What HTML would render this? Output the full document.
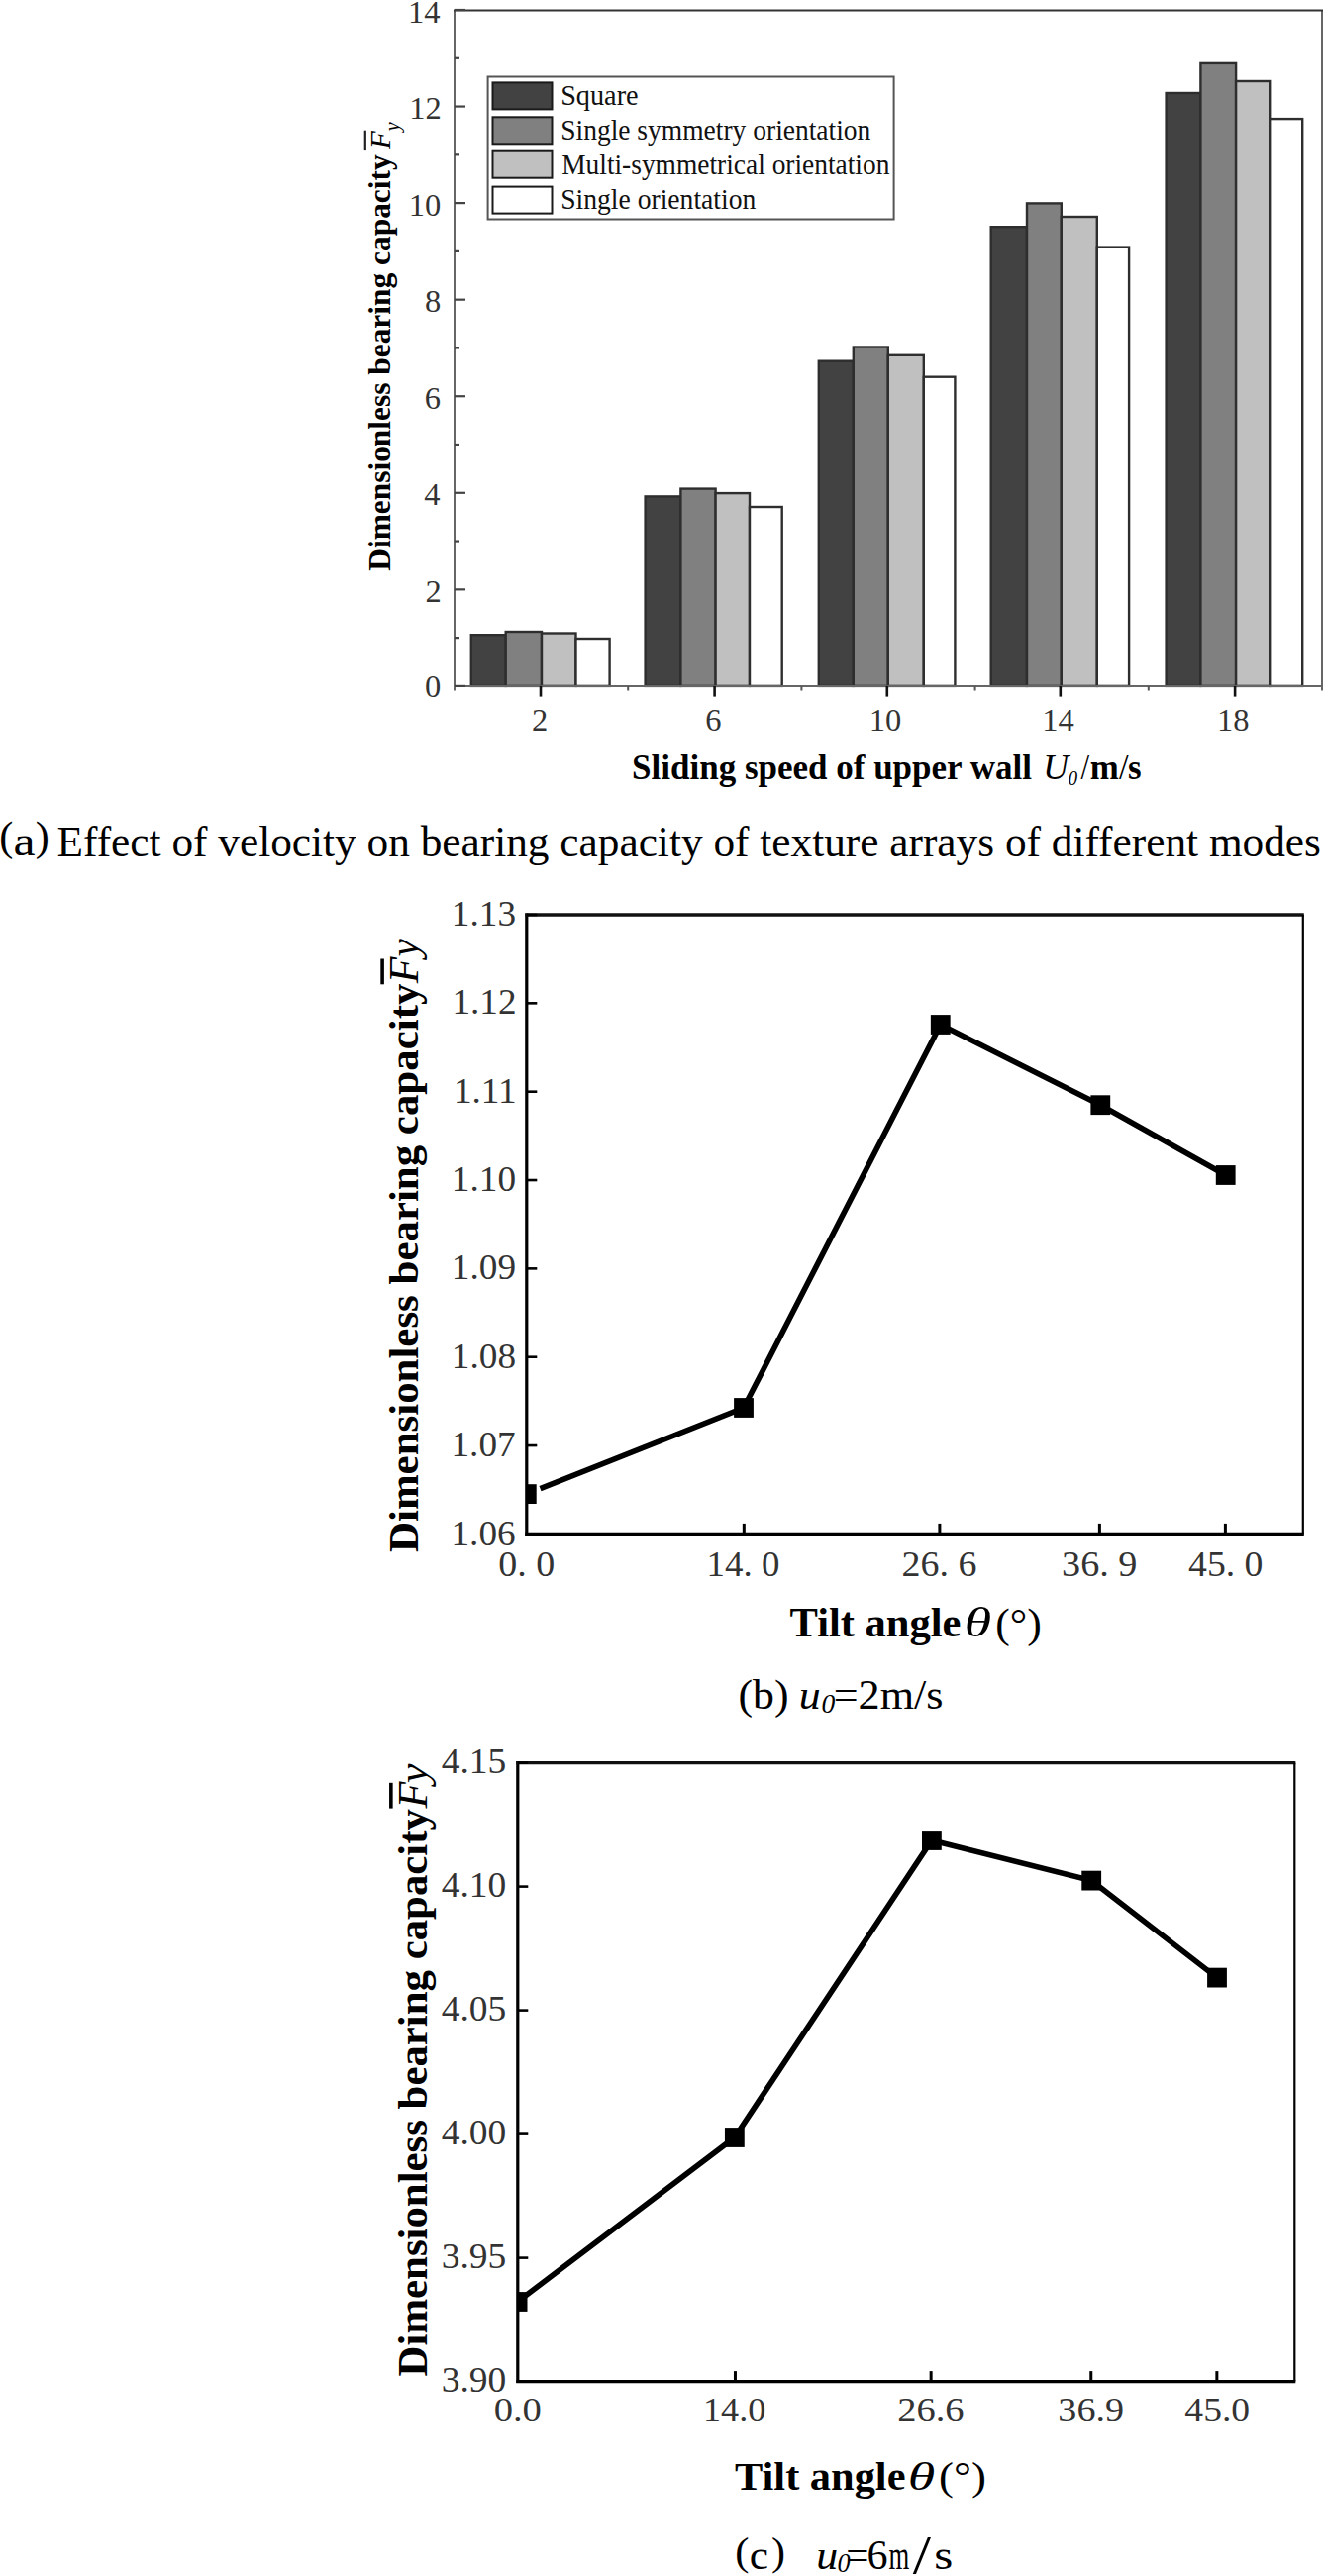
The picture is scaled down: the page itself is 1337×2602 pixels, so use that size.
<!DOCTYPE html><html><head><meta charset="utf-8"><style>html,body{margin:0;padding:0;background:#fff}svg{display:block}</style></head><body>
<svg width="1337" height="2602" viewBox="0 0 1337 2602">
<rect width="1337" height="2602" fill="#fff"/>
<rect x="475.80" y="641.20" width="34.90" height="51.70" fill="#424242" stroke="#2e2e2e" stroke-width="2.40"/>
<rect x="510.70" y="638.00" width="36.30" height="54.90" fill="#808080" stroke="#2e2e2e" stroke-width="2.40"/>
<rect x="547.00" y="639.50" width="34.50" height="53.40" fill="#c0c0c0" stroke="#2e2e2e" stroke-width="2.40"/>
<rect x="581.50" y="645.00" width="34.10" height="47.90" fill="#ffffff" stroke="#2e2e2e" stroke-width="2.40"/>
<rect x="651.60" y="501.40" width="35.80" height="191.50" fill="#424242" stroke="#2e2e2e" stroke-width="2.40"/>
<rect x="687.40" y="493.60" width="35.20" height="199.30" fill="#808080" stroke="#2e2e2e" stroke-width="2.40"/>
<rect x="722.60" y="498.10" width="34.40" height="194.80" fill="#c0c0c0" stroke="#2e2e2e" stroke-width="2.40"/>
<rect x="757.00" y="512.00" width="32.70" height="180.90" fill="#ffffff" stroke="#2e2e2e" stroke-width="2.40"/>
<rect x="826.80" y="364.70" width="35.00" height="328.20" fill="#424242" stroke="#2e2e2e" stroke-width="2.40"/>
<rect x="861.80" y="350.50" width="35.00" height="342.40" fill="#808080" stroke="#2e2e2e" stroke-width="2.40"/>
<rect x="896.80" y="358.80" width="36.00" height="334.10" fill="#c0c0c0" stroke="#2e2e2e" stroke-width="2.40"/>
<rect x="932.80" y="380.70" width="31.60" height="312.20" fill="#ffffff" stroke="#2e2e2e" stroke-width="2.40"/>
<rect x="1000.70" y="229.20" width="36.30" height="463.70" fill="#424242" stroke="#2e2e2e" stroke-width="2.40"/>
<rect x="1037.00" y="205.40" width="34.80" height="487.50" fill="#808080" stroke="#2e2e2e" stroke-width="2.40"/>
<rect x="1071.80" y="219.00" width="36.00" height="473.90" fill="#c0c0c0" stroke="#2e2e2e" stroke-width="2.40"/>
<rect x="1107.80" y="249.60" width="32.30" height="443.30" fill="#ffffff" stroke="#2e2e2e" stroke-width="2.40"/>
<rect x="1177.60" y="94.00" width="34.80" height="598.90" fill="#424242" stroke="#2e2e2e" stroke-width="2.40"/>
<rect x="1212.40" y="63.90" width="35.70" height="629.00" fill="#808080" stroke="#2e2e2e" stroke-width="2.40"/>
<rect x="1248.10" y="82.00" width="34.10" height="610.90" fill="#c0c0c0" stroke="#2e2e2e" stroke-width="2.40"/>
<rect x="1282.20" y="120.10" width="33.00" height="572.80" fill="#ffffff" stroke="#2e2e2e" stroke-width="2.40"/>
<line x1="459.00" y1="10.00" x2="459.00" y2="697.50" stroke="#666" stroke-width="2.00"/>
<line x1="1335.00" y1="10.00" x2="1335.00" y2="697.50" stroke="#666" stroke-width="2.00"/>
<line x1="458.00" y1="10.40" x2="1336.00" y2="10.40" stroke="#333" stroke-width="2.00"/>
<line x1="458.00" y1="692.90" x2="1336.00" y2="692.90" stroke="#666" stroke-width="2.00"/>
<line x1="459.00" y1="692.90" x2="470.00" y2="692.90" stroke="#444" stroke-width="2.20"/>
<line x1="459.00" y1="644.12" x2="464.00" y2="644.12" stroke="#444" stroke-width="2.20"/>
<line x1="459.00" y1="595.34" x2="470.00" y2="595.34" stroke="#444" stroke-width="2.20"/>
<line x1="459.00" y1="546.56" x2="464.00" y2="546.56" stroke="#444" stroke-width="2.20"/>
<line x1="459.00" y1="497.79" x2="470.00" y2="497.79" stroke="#444" stroke-width="2.20"/>
<line x1="459.00" y1="449.01" x2="464.00" y2="449.01" stroke="#444" stroke-width="2.20"/>
<line x1="459.00" y1="400.23" x2="470.00" y2="400.23" stroke="#444" stroke-width="2.20"/>
<line x1="459.00" y1="351.45" x2="464.00" y2="351.45" stroke="#444" stroke-width="2.20"/>
<line x1="459.00" y1="302.67" x2="470.00" y2="302.67" stroke="#444" stroke-width="2.20"/>
<line x1="459.00" y1="253.89" x2="464.00" y2="253.89" stroke="#444" stroke-width="2.20"/>
<line x1="459.00" y1="205.11" x2="470.00" y2="205.11" stroke="#444" stroke-width="2.20"/>
<line x1="459.00" y1="156.34" x2="464.00" y2="156.34" stroke="#444" stroke-width="2.20"/>
<line x1="459.00" y1="107.56" x2="470.00" y2="107.56" stroke="#444" stroke-width="2.20"/>
<line x1="459.00" y1="58.78" x2="464.00" y2="58.78" stroke="#444" stroke-width="2.20"/>
<line x1="459.00" y1="10.00" x2="470.00" y2="10.00" stroke="#444" stroke-width="2.20"/>
<line x1="546.00" y1="692.90" x2="546.00" y2="703.60" stroke="#111" stroke-width="2.60"/>
<line x1="721.60" y1="692.90" x2="721.60" y2="703.60" stroke="#111" stroke-width="2.60"/>
<line x1="895.80" y1="692.90" x2="895.80" y2="703.60" stroke="#111" stroke-width="2.60"/>
<line x1="1070.80" y1="692.90" x2="1070.80" y2="703.60" stroke="#111" stroke-width="2.60"/>
<line x1="1247.10" y1="692.90" x2="1247.10" y2="703.60" stroke="#111" stroke-width="2.60"/>
<line x1="634.20" y1="692.90" x2="634.20" y2="697.50" stroke="#555" stroke-width="2.00"/>
<line x1="809.40" y1="692.90" x2="809.40" y2="697.50" stroke="#555" stroke-width="2.00"/>
<line x1="984.60" y1="692.90" x2="984.60" y2="697.50" stroke="#555" stroke-width="2.00"/>
<line x1="1159.80" y1="692.90" x2="1159.80" y2="697.50" stroke="#555" stroke-width="2.00"/>
<text x="429.05" y="703.90" style="font-family:&quot;Liberation Serif&quot;;font-weight:normal;font-style:normal;font-size:32.50px" fill="#333">0</text>
<text x="429.54" y="607.94" style="font-family:&quot;Liberation Serif&quot;;font-weight:normal;font-style:normal;font-size:32.50px" fill="#333">2</text>
<text x="428.24" y="510.39" style="font-family:&quot;Liberation Serif&quot;;font-weight:normal;font-style:normal;font-size:32.50px" fill="#333">4</text>
<text x="428.73" y="412.83" style="font-family:&quot;Liberation Serif&quot;;font-weight:normal;font-style:normal;font-size:32.50px" fill="#333">6</text>
<text x="429.05" y="315.27" style="font-family:&quot;Liberation Serif&quot;;font-weight:normal;font-style:normal;font-size:32.50px" fill="#333">8</text>
<text x="412.80" y="217.71" style="font-family:&quot;Liberation Serif&quot;;font-weight:normal;font-style:normal;font-size:32.50px" fill="#333">10</text>
<text x="413.29" y="120.16" style="font-family:&quot;Liberation Serif&quot;;font-weight:normal;font-style:normal;font-size:32.50px" fill="#333">12</text>
<text x="411.99" y="22.60" style="font-family:&quot;Liberation Serif&quot;;font-weight:normal;font-style:normal;font-size:32.50px" fill="#333">14</text>
<text x="536.94" y="737.60" style="font-family:&quot;Liberation Serif&quot;;font-weight:normal;font-style:normal;font-size:32.50px" fill="#333">2</text>
<text x="712.21" y="737.60" style="font-family:&quot;Liberation Serif&quot;;font-weight:normal;font-style:normal;font-size:32.50px" fill="#333">6</text>
<text x="877.72" y="737.60" style="font-family:&quot;Liberation Serif&quot;;font-weight:normal;font-style:normal;font-size:32.50px" fill="#333">10</text>
<text x="1052.31" y="737.60" style="font-family:&quot;Liberation Serif&quot;;font-weight:normal;font-style:normal;font-size:32.50px" fill="#333">14</text>
<text x="1229.02" y="737.60" style="font-family:&quot;Liberation Serif&quot;;font-weight:normal;font-style:normal;font-size:32.50px" fill="#333">18</text>
<rect x="492.60" y="77.50" width="410.00" height="144.00" fill="#fff" stroke="#555" stroke-width="2.00"/>
<rect x="497.50" y="83.40" width="60.00" height="27.00" fill="#424242" stroke="#1a1a1a" stroke-width="2.00"/>
<text x="566.16" y="105.70" style="font-family:&quot;Liberation Serif&quot;;font-weight:normal;font-style:normal;font-size:28.80px" fill="#111" textLength="78.44" lengthAdjust="spacingAndGlyphs">Square</text>
<rect x="497.50" y="118.30" width="60.00" height="27.00" fill="#808080" stroke="#1a1a1a" stroke-width="2.00"/>
<text x="566.21" y="140.77" style="font-family:&quot;Liberation Serif&quot;;font-weight:normal;font-style:normal;font-size:28.80px" fill="#111" textLength="313.16" lengthAdjust="spacingAndGlyphs">Single symmetry orientation</text>
<rect x="497.50" y="152.70" width="60.00" height="27.00" fill="#c0c0c0" stroke="#1a1a1a" stroke-width="2.00"/>
<text x="567.18" y="175.84" style="font-family:&quot;Liberation Serif&quot;;font-weight:normal;font-style:normal;font-size:28.80px" fill="#111" textLength="331.24" lengthAdjust="spacingAndGlyphs">Multi-symmetrical orientation</text>
<rect x="497.50" y="188.60" width="60.00" height="27.00" fill="#ffffff" stroke="#1a1a1a" stroke-width="2.00"/>
<text x="566.20" y="210.91" style="font-family:&quot;Liberation Serif&quot;;font-weight:normal;font-style:normal;font-size:28.80px" fill="#111" textLength="197.14" lengthAdjust="spacingAndGlyphs">Single orientation</text>
<g transform="translate(393.8,576.3) rotate(-90)">
<text x="-0.47" y="0.00" style="font-family:&quot;Liberation Serif&quot;;font-weight:bold;font-style:normal;font-size:31.00px" fill="#000" textLength="420.44" lengthAdjust="spacingAndGlyphs">Dimensionless bearing capacity</text>
<text x="426.15" y="0.00" style="font-family:&quot;Liberation Serif&quot;;font-weight:normal;font-style:italic;font-size:29.50px" fill="#000">F</text>
<line x1="424.20" y1="-25.00" x2="444.60" y2="-25.00" stroke="#222" stroke-width="2.20"/>
<text x="444.00" y="9.40" style="font-family:&quot;Liberation Serif&quot;;font-weight:normal;font-style:italic;font-size:20.00px" fill="#000">y</text>
</g>
<text x="638.07" y="786.70" style="font-family:&quot;Liberation Serif&quot;;font-weight:bold;font-style:normal;font-size:35.00px" fill="#000">Sliding speed of upper wall</text>
<text x="1053.28" y="786.70" style="font-family:&quot;Liberation Serif&quot;;font-weight:normal;font-style:italic;font-size:35.00px" fill="#000" textLength="25.83" lengthAdjust="spacingAndGlyphs">U</text>
<text x="1078.85" y="793.00" style="font-family:&quot;Liberation Serif&quot;;font-weight:normal;font-style:italic;font-size:22.00px" fill="#000" textLength="9.33" lengthAdjust="spacingAndGlyphs">0</text>
<text x="1091.50" y="787.00" style="font-family:&quot;Liberation Serif&quot;;font-weight:normal;font-style:normal;font-size:35.00px" fill="#000" textLength="8.59" lengthAdjust="spacingAndGlyphs">/</text>
<text x="1100.83" y="786.70" style="font-family:&quot;Liberation Serif&quot;;font-weight:bold;font-style:normal;font-size:35.00px" fill="#000" textLength="29.00" lengthAdjust="spacingAndGlyphs">m</text>
<text x="1130.00" y="787.00" style="font-family:&quot;Liberation Serif&quot;;font-weight:normal;font-style:normal;font-size:35.00px" fill="#000" textLength="9.60" lengthAdjust="spacingAndGlyphs">/</text>
<text x="1138.95" y="786.70" style="font-family:&quot;Liberation Serif&quot;;font-weight:bold;font-style:normal;font-size:35.00px" fill="#000" textLength="13.59" lengthAdjust="spacingAndGlyphs">s</text>
<text x="-0.81" y="859.00" style="font-family:&quot;Liberation Serif&quot;;font-weight:normal;font-style:normal;font-size:43.00px" fill="#000" textLength="14.11" lengthAdjust="spacingAndGlyphs">(</text>
<text x="13.56" y="864.40" style="font-family:&quot;Liberation Serif&quot;;font-weight:normal;font-style:normal;font-size:43.00px" fill="#000" textLength="22.02" lengthAdjust="spacingAndGlyphs">a</text>
<text x="35.74" y="859.00" style="font-family:&quot;Liberation Serif&quot;;font-weight:normal;font-style:normal;font-size:43.00px" fill="#000" textLength="13.96" lengthAdjust="spacingAndGlyphs">)</text>
<text x="57.60" y="864.50" style="font-family:&quot;Liberation Serif&quot;;font-weight:normal;font-style:normal;font-size:43.30px" fill="#000">Effect of velocity on bearing capacity of texture arrays of different modes</text>
<clipPath id="cp924"><rect x="531.80" y="924.00" width="784.00" height="625.40"/></clipPath>
<g clip-path="url(#cp924)">
<path d="M545.50,1503.66 L751.00,1422.00 L949.75,1035.00 L1111.30,1116.20 L1237.70,1187.00" fill="none" stroke="#000" stroke-width="5.6" stroke-linejoin="miter" stroke-linecap="butt"/>
<rect x="521.90" y="1499.20" width="19.80" height="19.80" fill="#000"/>
<rect x="741.10" y="1412.10" width="19.80" height="19.80" fill="#000"/>
<rect x="939.85" y="1025.10" width="19.80" height="19.80" fill="#000"/>
<rect x="1101.40" y="1106.30" width="19.80" height="19.80" fill="#000"/>
<rect x="1227.80" y="1177.10" width="19.80" height="19.80" fill="#000"/>
</g>
<line x1="531.80" y1="922.50" x2="531.80" y2="1550.90" stroke="#000" stroke-width="3.20"/>
<line x1="530.30" y1="1549.40" x2="1316.80" y2="1549.40" stroke="#000" stroke-width="3.20"/>
<line x1="530.30" y1="924.00" x2="1316.80" y2="924.00" stroke="#111" stroke-width="3.40"/>
<line x1="1315.80" y1="924.00" x2="1315.80" y2="1549.40" stroke="#000" stroke-width="2.20"/>
<line x1="531.80" y1="1549.40" x2="542.30" y2="1549.40" stroke="#000" stroke-width="2.60"/>
<text x="455.51" y="1560.50" style="font-family:&quot;Liberation Serif&quot;;font-weight:normal;font-style:normal;font-size:35.00px" fill="#333" textLength="65.11" lengthAdjust="spacingAndGlyphs">1.06</text>
<line x1="531.80" y1="1460.06" x2="542.30" y2="1460.06" stroke="#000" stroke-width="2.60"/>
<text x="455.51" y="1471.16" style="font-family:&quot;Liberation Serif&quot;;font-weight:normal;font-style:normal;font-size:35.00px" fill="#333" textLength="65.11" lengthAdjust="spacingAndGlyphs">1.07</text>
<line x1="531.80" y1="1370.71" x2="542.30" y2="1370.71" stroke="#000" stroke-width="2.60"/>
<text x="455.88" y="1381.81" style="font-family:&quot;Liberation Serif&quot;;font-weight:normal;font-style:normal;font-size:35.00px" fill="#333" textLength="65.11" lengthAdjust="spacingAndGlyphs">1.08</text>
<line x1="531.80" y1="1281.37" x2="542.30" y2="1281.37" stroke="#000" stroke-width="2.60"/>
<text x="455.88" y="1292.47" style="font-family:&quot;Liberation Serif&quot;;font-weight:normal;font-style:normal;font-size:35.00px" fill="#333" textLength="65.11" lengthAdjust="spacingAndGlyphs">1.09</text>
<line x1="531.80" y1="1192.03" x2="542.30" y2="1192.03" stroke="#000" stroke-width="2.60"/>
<text x="455.88" y="1203.13" style="font-family:&quot;Liberation Serif&quot;;font-weight:normal;font-style:normal;font-size:35.00px" fill="#333" textLength="65.11" lengthAdjust="spacingAndGlyphs">1.10</text>
<line x1="531.80" y1="1102.69" x2="542.30" y2="1102.69" stroke="#000" stroke-width="2.60"/>
<text x="457.93" y="1113.79" style="font-family:&quot;Liberation Serif&quot;;font-weight:normal;font-style:normal;font-size:35.00px" fill="#333" textLength="63.73" lengthAdjust="spacingAndGlyphs">1.11</text>
<line x1="531.80" y1="1013.34" x2="542.30" y2="1013.34" stroke="#000" stroke-width="2.60"/>
<text x="456.44" y="1024.44" style="font-family:&quot;Liberation Serif&quot;;font-weight:normal;font-style:normal;font-size:35.00px" fill="#333" textLength="65.11" lengthAdjust="spacingAndGlyphs">1.12</text>
<line x1="531.80" y1="924.00" x2="542.30" y2="924.00" stroke="#000" stroke-width="2.60"/>
<text x="455.88" y="935.10" style="font-family:&quot;Liberation Serif&quot;;font-weight:normal;font-style:normal;font-size:35.00px" fill="#333" textLength="65.11" lengthAdjust="spacingAndGlyphs">1.13</text>
<text x="503.33" y="1592.30" style="font-family:&quot;Liberation Serif&quot;;font-weight:normal;font-style:normal;font-size:36.50px" fill="#333" textLength="56.94" lengthAdjust="spacingAndGlyphs">0. 0</text>
<line x1="751.32" y1="1549.40" x2="751.32" y2="1538.90" stroke="#000" stroke-width="3.00"/>
<text x="713.64" y="1592.30" style="font-family:&quot;Liberation Serif&quot;;font-weight:normal;font-style:normal;font-size:36.50px" fill="#333" textLength="73.71" lengthAdjust="spacingAndGlyphs">14. 0</text>
<line x1="948.89" y1="1549.40" x2="948.89" y2="1538.90" stroke="#000" stroke-width="3.00"/>
<text x="910.63" y="1592.30" style="font-family:&quot;Liberation Serif&quot;;font-weight:normal;font-style:normal;font-size:36.50px" fill="#333" textLength="75.95" lengthAdjust="spacingAndGlyphs">26. 6</text>
<line x1="1110.39" y1="1549.40" x2="1110.39" y2="1538.90" stroke="#000" stroke-width="3.00"/>
<text x="1072.12" y="1592.30" style="font-family:&quot;Liberation Serif&quot;;font-weight:normal;font-style:normal;font-size:36.50px" fill="#333" textLength="76.34" lengthAdjust="spacingAndGlyphs">36. 9</text>
<line x1="1237.40" y1="1549.40" x2="1237.40" y2="1538.90" stroke="#000" stroke-width="3.00"/>
<text x="1200.10" y="1592.30" style="font-family:&quot;Liberation Serif&quot;;font-weight:normal;font-style:normal;font-size:36.50px" fill="#333" textLength="75.36" lengthAdjust="spacingAndGlyphs">45. 0</text>
<g transform="translate(422.40,1567.40) rotate(-90)">
<text x="-0.64" y="0.00" style="font-family:&quot;Liberation Serif&quot;;font-weight:bold;font-style:normal;font-size:43.00px" fill="#000" textLength="574.41" lengthAdjust="spacingAndGlyphs">Dimensionless bearing capacity</text>
<text x="574.22" y="0.00" style="font-family:&quot;Liberation Serif&quot;;font-weight:normal;font-style:italic;font-size:43.00px" fill="#000" textLength="26.58" lengthAdjust="spacingAndGlyphs">F</text>
<line x1="573.10" y1="-36.30" x2="598.90" y2="-36.30" stroke="#000" stroke-width="3.60"/>
<text x="601.00" y="0.00" style="font-family:&quot;Liberation Serif&quot;;font-weight:normal;font-style:italic;font-size:43.00px" fill="#000" textLength="18.26" lengthAdjust="spacingAndGlyphs">y</text>
</g>
<text x="797.56" y="1653.20" style="font-family:&quot;Liberation Serif&quot;;font-weight:bold;font-style:normal;font-size:43.00px" fill="#000" textLength="172.92" lengthAdjust="spacingAndGlyphs">Tilt angle</text>
<text x="973.81" y="1653.20" style="font-family:&quot;Liberation Serif&quot;;font-weight:normal;font-style:italic;font-size:43.00px" fill="#000" textLength="27.37" lengthAdjust="spacingAndGlyphs">θ</text>
<text x="1005.23" y="1653.70" style="font-family:&quot;Liberation Serif&quot;;font-weight:normal;font-style:normal;font-size:43.00px" fill="#000" textLength="46.56" lengthAdjust="spacingAndGlyphs">(°)</text>
<text x="745.53" y="1726.20" style="font-family:&quot;Liberation Serif&quot;;font-weight:normal;font-style:normal;font-size:42.00px" fill="#000" textLength="51.07" lengthAdjust="spacingAndGlyphs">(b)</text>
<text x="806.81" y="1726.20" style="font-family:&quot;Liberation Serif&quot;;font-weight:normal;font-style:italic;font-size:42.00px" fill="#000" textLength="21.93" lengthAdjust="spacingAndGlyphs">u</text>
<text x="829.50" y="1730.30" style="font-family:&quot;Liberation Serif&quot;;font-weight:normal;font-style:italic;font-size:28.00px" fill="#000" textLength="13.78" lengthAdjust="spacingAndGlyphs">0</text>
<text x="841.69" y="1726.20" style="font-family:&quot;Liberation Serif&quot;;font-weight:normal;font-style:normal;font-size:42.00px" fill="#000" textLength="110.80" lengthAdjust="spacingAndGlyphs">=2m/s</text>
<clipPath id="cp1780"><rect x="522.80" y="1780.60" width="784.50" height="625.00"/></clipPath>
<g clip-path="url(#cp1780)">
<path d="M522.60,2325.00 L741.85,2159.00 L940.90,1859.00 L1102.20,1899.60 L1229.00,1997.60" fill="none" stroke="#000" stroke-width="5.6" stroke-linejoin="miter" stroke-linecap="butt"/>
<rect x="512.70" y="2315.10" width="19.80" height="19.80" fill="#000"/>
<rect x="731.95" y="2149.10" width="19.80" height="19.80" fill="#000"/>
<rect x="931.00" y="1849.10" width="19.80" height="19.80" fill="#000"/>
<rect x="1092.30" y="1889.70" width="19.80" height="19.80" fill="#000"/>
<rect x="1219.10" y="1987.70" width="19.80" height="19.80" fill="#000"/>
</g>
<line x1="522.80" y1="1779.10" x2="522.80" y2="2407.10" stroke="#000" stroke-width="3.20"/>
<line x1="521.30" y1="2405.60" x2="1308.30" y2="2405.60" stroke="#000" stroke-width="3.20"/>
<line x1="521.30" y1="1780.60" x2="1308.30" y2="1780.60" stroke="#111" stroke-width="3.40"/>
<line x1="1307.30" y1="1780.60" x2="1307.30" y2="2405.60" stroke="#000" stroke-width="2.20"/>
<line x1="522.80" y1="2405.60" x2="533.30" y2="2405.60" stroke="#000" stroke-width="2.60"/>
<text x="445.66" y="2415.80" style="font-family:&quot;Liberation Serif&quot;;font-weight:normal;font-style:normal;font-size:35.00px" fill="#333" textLength="65.54" lengthAdjust="spacingAndGlyphs">3.90</text>
<line x1="522.80" y1="2280.60" x2="533.30" y2="2280.60" stroke="#000" stroke-width="2.60"/>
<text x="445.66" y="2290.80" style="font-family:&quot;Liberation Serif&quot;;font-weight:normal;font-style:normal;font-size:35.00px" fill="#333" textLength="65.54" lengthAdjust="spacingAndGlyphs">3.95</text>
<line x1="522.80" y1="2155.60" x2="533.30" y2="2155.60" stroke="#000" stroke-width="2.60"/>
<text x="445.66" y="2165.80" style="font-family:&quot;Liberation Serif&quot;;font-weight:normal;font-style:normal;font-size:35.00px" fill="#333" textLength="65.54" lengthAdjust="spacingAndGlyphs">4.00</text>
<line x1="522.80" y1="2030.60" x2="533.30" y2="2030.60" stroke="#000" stroke-width="2.60"/>
<text x="445.66" y="2040.80" style="font-family:&quot;Liberation Serif&quot;;font-weight:normal;font-style:normal;font-size:35.00px" fill="#333" textLength="65.54" lengthAdjust="spacingAndGlyphs">4.05</text>
<line x1="522.80" y1="1905.60" x2="533.30" y2="1905.60" stroke="#000" stroke-width="2.60"/>
<text x="445.66" y="1915.80" style="font-family:&quot;Liberation Serif&quot;;font-weight:normal;font-style:normal;font-size:35.00px" fill="#333" textLength="65.54" lengthAdjust="spacingAndGlyphs">4.10</text>
<line x1="522.80" y1="1780.60" x2="533.30" y2="1780.60" stroke="#000" stroke-width="2.60"/>
<text x="445.66" y="1790.80" style="font-family:&quot;Liberation Serif&quot;;font-weight:normal;font-style:normal;font-size:35.00px" fill="#333" textLength="65.54" lengthAdjust="spacingAndGlyphs">4.15</text>
<text x="498.65" y="2445.30" style="font-family:&quot;Liberation Serif&quot;;font-weight:normal;font-style:normal;font-size:33.50px" fill="#333" textLength="48.29" lengthAdjust="spacingAndGlyphs">0.0</text>
<line x1="742.46" y1="2405.60" x2="742.46" y2="2395.10" stroke="#000" stroke-width="3.00"/>
<text x="710.04" y="2445.30" style="font-family:&quot;Liberation Serif&quot;;font-weight:normal;font-style:normal;font-size:33.50px" fill="#333" textLength="63.22" lengthAdjust="spacingAndGlyphs">14.0</text>
<line x1="940.15" y1="2405.60" x2="940.15" y2="2395.10" stroke="#000" stroke-width="3.00"/>
<text x="906.22" y="2445.30" style="font-family:&quot;Liberation Serif&quot;;font-weight:normal;font-style:normal;font-size:33.50px" fill="#333" textLength="67.28" lengthAdjust="spacingAndGlyphs">26.6</text>
<line x1="1101.76" y1="2405.60" x2="1101.76" y2="2395.10" stroke="#000" stroke-width="3.00"/>
<text x="1068.35" y="2445.30" style="font-family:&quot;Liberation Serif&quot;;font-weight:normal;font-style:normal;font-size:33.50px" fill="#333" textLength="66.64" lengthAdjust="spacingAndGlyphs">36.9</text>
<line x1="1228.85" y1="2405.60" x2="1228.85" y2="2395.10" stroke="#000" stroke-width="3.00"/>
<text x="1196.35" y="2445.30" style="font-family:&quot;Liberation Serif&quot;;font-weight:normal;font-style:normal;font-size:33.50px" fill="#333" textLength="65.75" lengthAdjust="spacingAndGlyphs">45.0</text>
<g transform="translate(431.00,2399.80) rotate(-90)">
<text x="-0.64" y="0.00" style="font-family:&quot;Liberation Serif&quot;;font-weight:bold;font-style:normal;font-size:43.00px" fill="#000" textLength="573.31" lengthAdjust="spacingAndGlyphs">Dimensionless bearing capacity</text>
<text x="573.42" y="0.00" style="font-family:&quot;Liberation Serif&quot;;font-weight:normal;font-style:italic;font-size:43.00px" fill="#000" textLength="26.98" lengthAdjust="spacingAndGlyphs">F</text>
<line x1="573.20" y1="-36.15" x2="599.00" y2="-36.15" stroke="#000" stroke-width="3.60"/>
<text x="598.68" y="0.00" style="font-family:&quot;Liberation Serif&quot;;font-weight:normal;font-style:italic;font-size:43.00px" fill="#000" textLength="19.76" lengthAdjust="spacingAndGlyphs">y</text>
</g>
<text x="742.06" y="2514.80" style="font-family:&quot;Liberation Serif&quot;;font-weight:bold;font-style:normal;font-size:41.00px" fill="#000" textLength="172.42" lengthAdjust="spacingAndGlyphs">Tilt angle</text>
<text x="916.70" y="2514.80" style="font-family:&quot;Liberation Serif&quot;;font-weight:normal;font-style:italic;font-size:41.00px" fill="#000" textLength="27.49" lengthAdjust="spacingAndGlyphs">θ</text>
<text x="948.08" y="2515.30" style="font-family:&quot;Liberation Serif&quot;;font-weight:normal;font-style:normal;font-size:41.00px" fill="#000" textLength="47.75" lengthAdjust="spacingAndGlyphs">(°)</text>
<text x="742.18" y="2590.50" style="font-family:&quot;Liberation Serif&quot;;font-weight:normal;font-style:normal;font-size:41.00px" fill="#000" textLength="14.24" lengthAdjust="spacingAndGlyphs">(</text>
<text x="756.86" y="2595.00" style="font-family:&quot;Liberation Serif&quot;;font-weight:normal;font-style:normal;font-size:42.00px" fill="#000" textLength="19.29" lengthAdjust="spacingAndGlyphs">c</text>
<text x="779.04" y="2590.50" style="font-family:&quot;Liberation Serif&quot;;font-weight:normal;font-style:normal;font-size:41.00px" fill="#000" textLength="13.96" lengthAdjust="spacingAndGlyphs">)</text>
<text x="824.31" y="2595.00" style="font-family:&quot;Liberation Serif&quot;;font-weight:normal;font-style:italic;font-size:42.00px" fill="#000" textLength="21.93" lengthAdjust="spacingAndGlyphs">u</text>
<text x="845.45" y="2598.00" style="font-family:&quot;Liberation Serif&quot;;font-weight:normal;font-style:italic;font-size:27.50px" fill="#000" textLength="13.11" lengthAdjust="spacingAndGlyphs">0</text>
<text x="854.35" y="2595.00" style="font-family:&quot;Liberation Serif&quot;;font-weight:normal;font-style:normal;font-size:42.00px" fill="#000" textLength="23.17" lengthAdjust="spacingAndGlyphs">=</text>
<text x="875.62" y="2595.00" style="font-family:&quot;Liberation Serif&quot;;font-weight:normal;font-style:normal;font-size:42.00px" fill="#000" textLength="21.05" lengthAdjust="spacingAndGlyphs">6</text>
<text x="897.57" y="2595.00" style="font-family:&quot;Liberation Serif&quot;;font-weight:normal;font-style:normal;font-size:42.00px" fill="#000" textLength="20.78" lengthAdjust="spacingAndGlyphs">m</text>
<text x="921.70" y="2598.50" style="font-family:&quot;Liberation Serif&quot;;font-weight:normal;font-style:normal;font-size:54.00px" fill="#000" textLength="18.29" lengthAdjust="spacingAndGlyphs">/</text>
<text x="943.34" y="2595.00" style="font-family:&quot;Liberation Serif&quot;;font-weight:normal;font-style:normal;font-size:42.00px" fill="#000" textLength="19.02" lengthAdjust="spacingAndGlyphs">s</text>
</svg></body></html>
